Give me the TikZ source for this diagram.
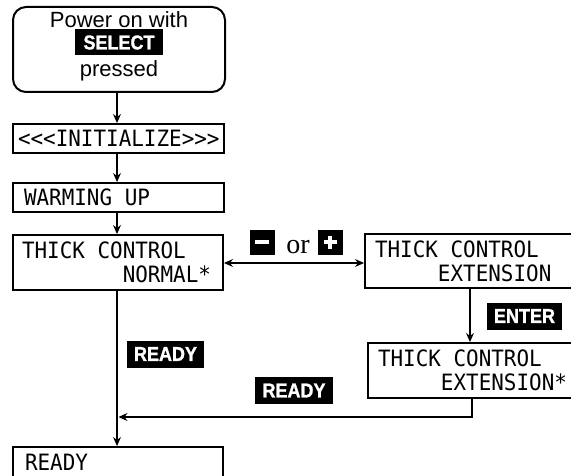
\documentclass[tikz,border=0pt]{standalone}
\usepackage{fontspec}
\setmainfont{Liberation Sans}
\newfontfamily\lcd{DejaVu Sans Mono}[FakeStretch=0.93]
\newfontfamily\orfont{Liberation Serif}
\newfontfamily\keyfont{Liberation Sans Bold}[FakeStretch=0.9,FakeBold=1.2]
\newcommand\lsp{\phantom{X}}
\usetikzlibrary{arrows.meta}
\begin{document}
\begin{tikzpicture}[x=1pt,y=1pt,
  lcdbox/.style={draw, line width=2pt, inner ysep=0pt, align=left,
    font={\lcd\fontsize{22.5}{24}\selectfont}},
  keylabel/.style={fill=black, text=white, inner xsep=7pt, inner ysep=0pt,
    minimum height=27pt, font={\keyfont\fontsize{20}{20}\selectfont}},
  signkey/.style={fill=black, minimum width=25pt, minimum height=25pt, inner sep=0pt},
  conn/.style={line width=1.2pt, -{Stealth[length=9pt,width=8pt,inset=3pt]}},
  conn2/.style={line width=1.2pt, {Stealth[length=9pt,width=8pt,inset=3pt]}-{Stealth[length=9pt,width=8pt,inset=3pt]}},
  sign/.style={white, line width=4.5pt}]
\useasboundingbox (0,0) rectangle (571,475);

% boxes
\node[draw, line width=2pt, rounded corners=13pt, minimum width=212pt, minimum height=85pt] (power) at (119,425.5) {};
\node[font={\fontsize{22}{24}\selectfont}, anchor=base, inner sep=0pt] (pw1) at (119,447) {Power on with};
\node[font={\fontsize{22}{24}\selectfont}, anchor=base, inner sep=0pt] (pw2) at (119,398) {pressed};
\node[keylabel, minimum width=88pt, minimum height=26pt] (select) at (119,432.5) {SELECT};

\node[lcdbox, minimum height=29pt, inner xsep=5pt, text width=201pt, align=center] (init) at (118.5,336.5) {<<<INITIALIZE>>>};
\node[lcdbox, minimum height=29pt, inner xsep=11pt, text width=189pt] (warm) at (118.5,277.5) {WARMING\lsp UP};
\node[lcdbox, minimum height=55pt, inner xsep=9pt, text width=192pt] (normal) at (118,212.5) {THICK\lsp CONTROL\\\phantom{XXXXXXXX}NORMAL*};
\node[lcdbox, minimum height=54pt, inner xsep=10pt, text width=195pt] (ext) at (472.5,214) {THICK\lsp CONTROL\\\phantom{XXXXX}EXTENSION};
\node[lcdbox, minimum height=55pt, inner xsep=10pt, text width=192pt] (ext2) at (474,104.5) {THICK\lsp CONTROL\\\phantom{XXXXX}EXTENSION*};
\node[lcdbox, minimum height=31pt, inner xsep=12pt, text width=186pt] (ready) at (118,12.5) {READY};

% key labels
\node[keylabel, minimum width=75pt] (readyA) at (165.5,121) {READY};
\node[keylabel, minimum width=73pt] (enter) at (524.5,159) {ENTER};
\node[keylabel, minimum width=78pt] (readyB) at (294,84.5) {READY};

\node[signkey] (minus) at (262,233) {};
\draw[sign] ([xshift=-7pt]minus.center) -- ([xshift=7pt]minus.center);
\node[font={\orfont\fontsize{28}{28}\selectfont}, anchor=base, inner sep=0pt] (or) at (298,222) {or};
\node[signkey] (plus) at (330,233) {};
\draw[sign] ([xshift=-6.5pt]plus.center) -- ([xshift=6.5pt]plus.center);
\draw[sign] ([yshift=-6.5pt]plus.center) -- ([yshift=6.5pt]plus.center);

% coordinates
\coordinate (lx) at (117,0);
\coordinate (rx) at (470,0);
\coordinate (rx2) at (472,0);
\coordinate (ay) at (0,212);
\coordinate (join) at (118.5,58);

% connectors
\draw[conn] (power.south -| lx) -- (init.north -| lx);
\draw[conn] (init.south -| lx) -- (warm.north -| lx);
\draw[conn] (warm.south -| lx) -- (normal.north -| lx);
\draw[conn2] (normal.east |- ay) -- (ext.west |- ay);
\draw[conn] (ext.south -| rx) -- (ext2.north -| rx);
\draw[conn] (normal.south -| lx) -- (ready.north -| lx);
\draw[conn] (ext2.south -| rx2) -- (rx2 |- join) -- (join);
\end{tikzpicture}
\end{document}
